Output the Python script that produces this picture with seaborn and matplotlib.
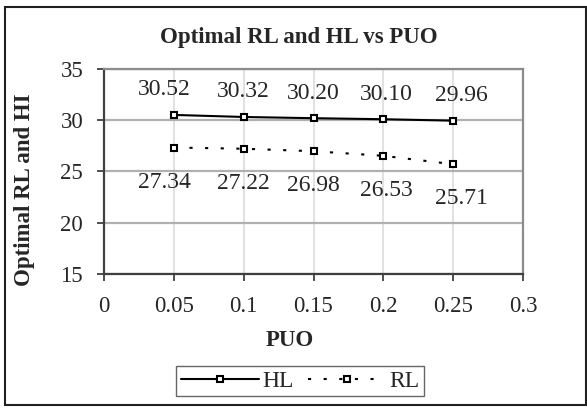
import matplotlib
matplotlib.use("Agg")
import matplotlib.pyplot as plt
import seaborn as sns
import pandas as pd
from matplotlib.patches import Rectangle
from matplotlib.lines import Line2D

puo = [0.05, 0.10, 0.15, 0.20, 0.25]
hl = [30.52, 30.32, 30.20, 30.10, 29.96]
rl = [27.34, 27.22, 26.98, 26.53, 25.71]
hl_labels = ["30.52", "30.32", "30.20", "30.10", "29.96"]
rl_labels = ["27.34", "27.22", "26.98", "26.53", "25.71"]
x_ticks = [0, 0.05, 0.1, 0.15, 0.2, 0.25, 0.3]
x_ticklabels = ["0", "0.05", "0.1", "0.15", "0.2", "0.25", "0.3"]
y_ticks = [15, 20, 25, 30, 35]

sns.set_style("white")
plt.rcParams['font.family'] = ['Liberation Serif', 'DejaVu Serif']

FS = 16.5
fig = plt.figure(figsize=(5.87, 4.08), dpi=100)
W, H = 587, 408
ax = fig.add_axes([104 / W, 1 - 274 / H, (523 - 104) / W, (274 - 69) / H])

df_hl = pd.DataFrame({"PUO": puo, "val": hl})
df_rl = pd.DataFrame({"PUO": puo, "val": rl})

mk = dict(marker="s", markersize=4.6, markerfacecolor="white",
          markeredgecolor="black", markeredgewidth=1.5)
dash = (0, (1.5, 6))
sns.lineplot(data=df_hl, x="PUO", y="val", ax=ax, color="black", lw=1.5, **mk)
sns.lineplot(data=df_rl, x="PUO", y="val", ax=ax, color="black", lw=1.5,
             linestyle=dash, **mk)

# horizontal nudges of the value labels (in points), as placed in the original
nudge = [-7, 0, 0, 2, 6]
for x, y, t, dx in zip(puo, hl, hl_labels, nudge):
    ax.annotate(t, (x, y), xytext=(dx, 18), textcoords="offset points",
                ha="center", va="center", fontsize=FS + 0.5)
for x, y, t, dx in zip(puo, rl, rl_labels, nudge):
    ax.annotate(t, (x, y), xytext=(dx, -25), textcoords="offset points",
                ha="center", va="center", fontsize=FS + 0.5)

ax.set_xlim(0, 0.3)
ax.set_ylim(15, 35)
ax.set_xticks(x_ticks)
ax.set_xticklabels(x_ticklabels)
ax.set_yticks(y_ticks)
ax.tick_params(axis="both", which="both", direction="out", length=5,
               width=1.3, color="#404040", labelsize=FS, bottom=True, left=True)
ax.tick_params(axis="x", pad=11)
ax.tick_params(axis="y", pad=10)
ax.yaxis.grid(True, color="#b0b0b0", lw=1.6)
ax.xaxis.grid(True, color="#d8d8d8", lw=1.1)
ax.set_axisbelow(True)
for s in ["top", "right"]:
    ax.spines[s].set_color("#8c8c8c")
    ax.spines[s].set_linewidth(1.6)
for s in ["left", "bottom"]:
    ax.spines[s].set_color("#404040")
    ax.spines[s].set_linewidth(1.6)

ax.set_xlabel("")
ax.set_ylabel("")
fig.text(290 / W, 1 - 341 / H, "PUO", ha="center", va="center",
         fontsize=FS, fontweight="bold")
fig.text(25 / W, 1 - 190 / H, "Optimal RL and HI", ha="center", va="center",
         rotation=90, fontsize=FS, fontweight="bold")
fig.text(299 / W, 1 - 37 / H, "Optimal RL and HL vs PUO",
         ha="center", va="center", fontsize=FS, fontweight="bold")

handles = [
    Line2D([], [], color="black", lw=1.5, **mk),
    Line2D([], [], color="black", lw=1.5, linestyle=dash, **mk),
]
leg = fig.legend(handles, ["HL", "RL"], loc="center",
                 bbox_to_anchor=(300 / W, 1 - 381 / H), ncol=2, frameon=True,
                 fontsize=FS + 0.5, fancybox=False, edgecolor="#404040",
                 handlelength=3.3, handletextpad=0.15, columnspacing=0.6,
                 borderpad=0.2, borderaxespad=0)
leg.get_frame().set_linewidth(1.0)

fig.patches.append(Rectangle((5 / W, 1 - 405 / H), 581 / W, 398 / H,
                             transform=fig.transFigure, fill=False,
                             edgecolor="#202020", lw=1.5))

fig.savefig("out.png", dpi=100)
